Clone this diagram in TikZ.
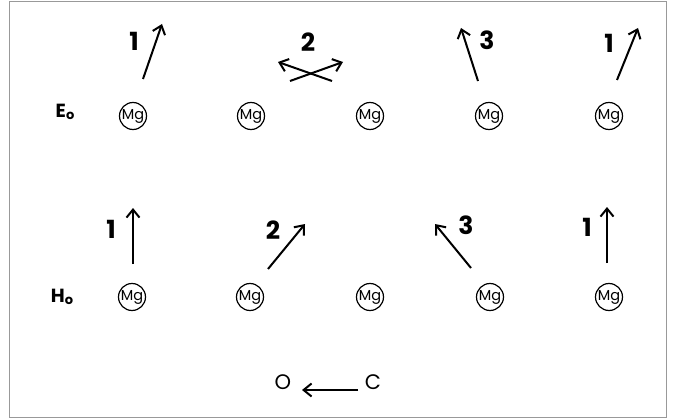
\documentclass[tikz,border=0pt]{standalone}
\usepackage{fontspec}
\setmainfont{Poppins}
\usetikzlibrary{arrows.meta}

\begin{document}
\begin{tikzpicture}[x=1pt, y=-1pt,
    atom/.style={draw, circle, line width=1.2pt, minimum size=27pt, inner sep=0pt, font=\fontsize{14.5}{14.5}\selectfont},
    spin/.style={line width=2pt, -{Straight Barb[length=8pt, width=13pt, line width=2pt]}},
    num/.style={font=\fontsize{25}{25}\selectfont\bfseries},
    row/.style={font=\fontsize{19}{19}\selectfont\bfseries},
    axis/.style={font=\fontsize{21}{21}\selectfont}]
        \useasboundingbox (0,0) rectangle (673,420);
        \draw[gray!80, line width=1pt] (9,2) rectangle (666,417);

        % E0 row
        \node[row] (e0) at (65,112) {E\raisebox{-0.25ex}{\fontsize{13}{13}\selectfont o}};
        \node[atom] (e1) at (133,116) {Mg};
        \node[atom] (e2) at (251,116) {Mg};
        \node[atom] (e3) at (370,116) {Mg};
        \node[atom] (e4) at (489,116) {Mg};
        \node[atom] (e5) at (609,116) {Mg};

        % spins above E0 row
        \coordinate (e1t) at (143,79);  \coordinate (e1h) at (162,24);
        \coordinate (e2a) at (332,81);  \coordinate (e2b) at (278,62);
        \coordinate (e2c) at (290,81);  \coordinate (e2d) at (343,62);
        \coordinate (e4t) at (478,81);  \coordinate (e4h) at (461,28);
        \coordinate (e5t) at (617,80);  \coordinate (e5h) at (638,28);
        \draw[spin] (e1t) -- (e1h);
        \draw[spin] (e2a) -- (e2b);
        \draw[spin] (e2c) -- (e2d);
        \draw[spin] (e4t) -- (e4h);
        \draw[spin] (e5t) -- (e5h);
        \node[num] (n1) at (134,41) {1};
        \node[num] (n2) at (308,42) {2};
        \node[num] (n3) at (487,40) {3};
        \node[num] (n4) at (609,43) {1};

        % H0 row
        \node[row] (h0) at (62,297) {H\raisebox{-0.25ex}{\fontsize{13}{13}\selectfont o}};
        \node[atom] (h1) at (132,297) {Mg};
        \node[atom] (h2) at (250,297) {Mg};
        \node[atom] (h3) at (370,297) {Mg};
        \node[atom] (h4) at (490,297) {Mg};
        \node[atom] (h5) at (609,297) {Mg};

        % spins above H0 row
        \coordinate (h1t) at (133,264);  \coordinate (h1h) at (133,208);
        \coordinate (h2t) at (268,269);  \coordinate (h2h) at (305,224);
        \coordinate (h4t) at (471,268);  \coordinate (h4h) at (435,224);
        \coordinate (h5t) at (607,263);  \coordinate (h5h) at (607,207);
        \draw[spin] (h1t) -- (h1h);
        \draw[spin] (h2t) -- (h2h);
        \draw[spin] (h4t) -- (h4h);
        \draw[spin] (h5t) -- (h5h);
        \node[num] (m1) at (111,229) {1};
        \node[num] (m2) at (273,230) {2};
        \node[num] (m3) at (466,225) {3};
        \node[num] (m4) at (587,227) {1};

        % axis
        \node[axis] (o) at (283,382) {O};
        \node[axis] (c) at (373,382) {C};
        \coordinate (ct) at (358,390);  \coordinate (oh) at (302,390);
        \draw[spin] (ct) -- (oh);
\end{tikzpicture}
\end{document}
